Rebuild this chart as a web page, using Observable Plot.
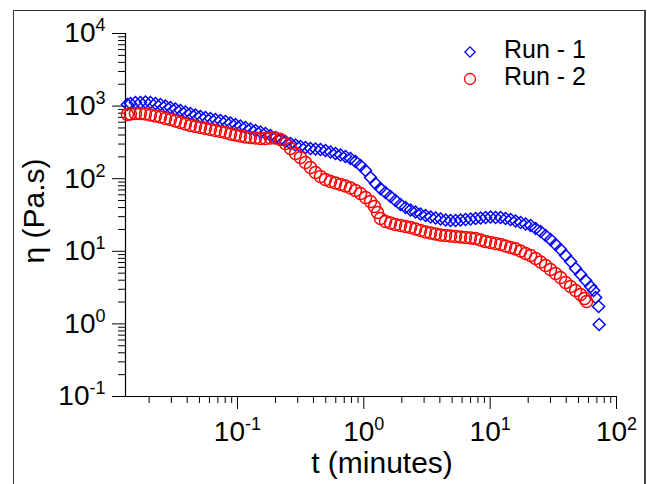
<!DOCTYPE html>
<html><head><meta charset="utf-8">
<script src="https://cdn.jsdelivr.net/npm/d3@7"></script>
<script src="https://cdn.jsdelivr.net/npm/@observablehq/plot@0.6"></script>
<style>
body{margin:0;background:#fff;}
#wrap{position:relative;width:647px;height:484px;overflow:hidden;background:#fff;}
#frame{position:absolute;left:13px;top:10px;width:633px;height:490px;box-sizing:border-box;border:1px solid #333;border-right:2px solid #444;border-bottom:none;}
#wrap svg{position:absolute;left:0;top:0;}
</style></head><body><div id="wrap"><div id="frame"></div></div>
<script>
const seriesNames = ["Run - 1", "Run - 2"];
const run1T = [0.01346,0.01422,0.01558,0.01706,0.01869,0.02048,0.02243,0.02457,0.02691,0.02948,0.03229,0.03537,0.03875,0.04245,0.0465,0.05093,0.05579,0.06112,0.06695,0.07334,0.08035,0.08802,0.09642,0.1056,0.1157,0.1267,0.1388,0.1521,0.1666,0.1825,0.1999,0.219,0.2399,0.2628,0.2879,0.3153,0.3454,0.3784,0.4145,0.4541,0.4974,0.5449,0.5969,0.6539,0.7163,0.7847,0.8596,0.9417,1.032,1.13,1.238,1.356,1.485,1.627,1.782,1.952,2.139,2.343,2.566,2.811,3.08,3.374,3.696,4.049,4.435,4.859,5.322,5.831,6.387,6.997,7.665,8.396,9.197,10.07,11.04,12.09,13.24,14.51,15.89,17.41,19.07,20.89,22.88,25.07,27.46,30.08,32.95,36.09,39.54,43.31,47.45,51.98,56.94,62.37,65.88,68.32,72.18,72.9];
const run1Eta = [1052,1086,1121,1121,1139,1121,1086,1052,1003,957,912,870,829,791,754,719,697,675,654,634,614,585,558,532,507,484,461,440,419,394,369,347,325,305,291,278,269,261,257,253,245,233,222,212,202,190,173,152,130,104,86,73,64.5,56.9,50.1,44.1,40.1,37.1,34.8,32.7,31.1,29.7,28.8,27.9,27.0,26.6,26.6,27.0,27.4,27.9,28.3,28.8,29.2,29.7,29.2,29.2,28.3,27.4,26.2,24.9,23.8,22.7,20.6,18.7,16.5,14.5,12.4,10.6,8.75,7.24,5.8,4.79,3.96,3.27,2.88,2.31,1.74,0.98];
const run2T = [0.01346,0.01422,0.01558,0.01706,0.01869,0.02048,0.02243,0.02457,0.02691,0.02948,0.03229,0.03537,0.03875,0.04245,0.0465,0.05093,0.05579,0.06112,0.06695,0.07334,0.08035,0.08802,0.09642,0.1056,0.1157,0.1267,0.1388,0.1521,0.1666,0.1825,0.1999,0.219,0.2399,0.2628,0.2879,0.3153,0.3454,0.3784,0.4145,0.4541,0.4974,0.5449,0.5969,0.6539,0.7163,0.7847,0.8596,0.9417,1.032,1.13,1.215,1.284,1.356,1.485,1.627,1.782,1.952,2.139,2.343,2.566,2.811,3.08,3.374,3.696,4.049,4.435,4.859,5.322,5.831,6.387,6.997,7.665,8.396,9.197,10.07,11.04,12.09,13.24,14.51,15.89,17.41,19.07,20.89,22.88,25.07,27.46,30.08,32.95,36.09,39.54,43.31,47.45,51.98,55.91,57.99];
const run2Eta = [766,778,791,791,778,754,731,708,675,654,624,595,567,541,524,507,492,476,461,447,433,413,400,388,375,369,364,358,358,364,364,347,305,261,222,196,167,143,122,107,97.5,91.5,87.3,83.2,79.3,74.5,68.8,62.5,55.1,48.5,41.4,34.2,28.3,25.7,24.5,23.4,22.7,22.0,21.3,20.3,19.3,18.4,17.9,17.3,16.8,16.5,16.2,16.0,15.7,15.5,15.3,15.0,14.3,13.6,13.2,12.8,12.4,11.8,11.3,10.8,10.1,9.33,8.75,7.96,7.12,6.37,5.62,4.95,4.36,3.72,3.27,2.88,2.54,2.24,2.03];
const xMajor = [0.1, 1, 10, 100];
const yMajor = [0.1, 1, 10, 100, 1000, 10000];
const xDomain = [0.013, 100];
const yDomain = [0.1, 10000];

const minorOf = (majors, lo, hi) => {
  const out = [];
  for (const m of [majors[0] / 10, ...majors]) for (let k = 2; k <= 9; k++) {
    const v = m * k; if (v > lo && v < hi) out.push(v);
  }
  return out;
};
const xMinor = minorOf(xMajor, xDomain[0], xDomain[1]);
const yMinor = minorOf(yMajor, yDomain[0], yDomain[1]);

const d1 = run1T.map((t, i) => ({t, eta: run1Eta[i], run: seriesNames[0]}));
const d2 = run2T.map((t, i) => ({t, eta: run2Eta[i], run: seriesNames[1]}));
const expFmt = d => String(Math.round(Math.log10(d)));
const FONT = "'Liberation Sans', Arial, Helvetica, sans-serif";
const RD = 5.4, RC = 6;

const plot = Plot.plot({
  width: 647, height: 484,
  marginLeft: 125, marginRight: 31, marginTop: 33, marginBottom: 88,
  style: {background: "transparent", fontFamily: FONT, color: "#000"},
  x: {type: "log", domain: xDomain, label: null},
  y: {type: "log", domain: yDomain, label: null},
  marks: [
    Plot.axisY(yMinor, {tickSize: 7, tickFormat: () => "", label: null, stroke: "#000"}),
    Plot.axisY(yMajor, {tickSize: 13, tickPadding: 7, tickFormat: expFmt, fontSize: 28, label: null, stroke: "#000"}),
    Plot.axisX(xMinor, {tickSize: 7, tickFormat: () => "", label: null, stroke: "#000"}),
    Plot.axisX(xMajor, {tickSize: 13, tickPadding: 12, tickFormat: expFmt, fontSize: 28, label: null, stroke: "#000"}),
    Plot.ruleX([xDomain[0]], {stroke: "#000", strokeWidth: 1.2}),
    Plot.ruleY([yDomain[0]], {stroke: "#000", strokeWidth: 1.2}),
    Plot.dot(d1, {x: "t", y: "eta", symbol: "diamond2", r: RD, stroke: "#0000ff", fill: "none", strokeWidth: 1.5}),
    Plot.dot(d2, {x: "t", y: "eta", symbol: "circle", r: RC, stroke: "#ff0000", fill: "none", strokeWidth: 1.5})
  ]
});
document.getElementById("wrap").appendChild(plot);

const svg = d3.select(plot);
// superscript tick labels: 10^k
svg.selectAll('g[aria-label$="tick label"] text').each(function() {
  const el = d3.select(this);
  const e = el.text();
  if (e === "") return;
  el.text(null);
  el.append("tspan").text("10");
  el.append("tspan").attr("dy", "-11").attr("font-size", 18).text(e);
});

// axis titles
svg.append("text").attr("x", 382).attr("y", 473).attr("text-anchor", "middle")
  .attr("font-family", FONT).attr("font-size", 30).attr("fill", "#000").text("t (minutes)");
svg.append("text").attr("transform", "translate(44,211) rotate(-90)").attr("text-anchor", "middle")
  .attr("font-family", FONT).attr("font-size", 30).attr("fill", "#000").text("η (Pa.s)");

// legend
const lg = svg.append("g").attr("font-family", FONT).attr("font-size", 25).attr("fill", "#000").attr("text-anchor", "start");
lg.append("path").attr("d", d3.symbol(d3.symbolDiamond2, Math.PI * 4.6 * 4.6)()).attr("transform", "translate(470,52)")
  .attr("fill", "none").attr("stroke", "#0000ff").attr("stroke-width", 1.3);
lg.append("circle").attr("cx", 470).attr("cy", 79).attr("r", 5.5).attr("fill", "none").attr("stroke", "#ff0000").attr("stroke-width", 1.3);
lg.append("text").attr("x", 504).attr("y", 58).attr("text-anchor", "start").text(seriesNames[0]);
lg.append("text").attr("x", 504).attr("y", 85).attr("text-anchor", "start").text(seriesNames[1]);
</script></body></html>
